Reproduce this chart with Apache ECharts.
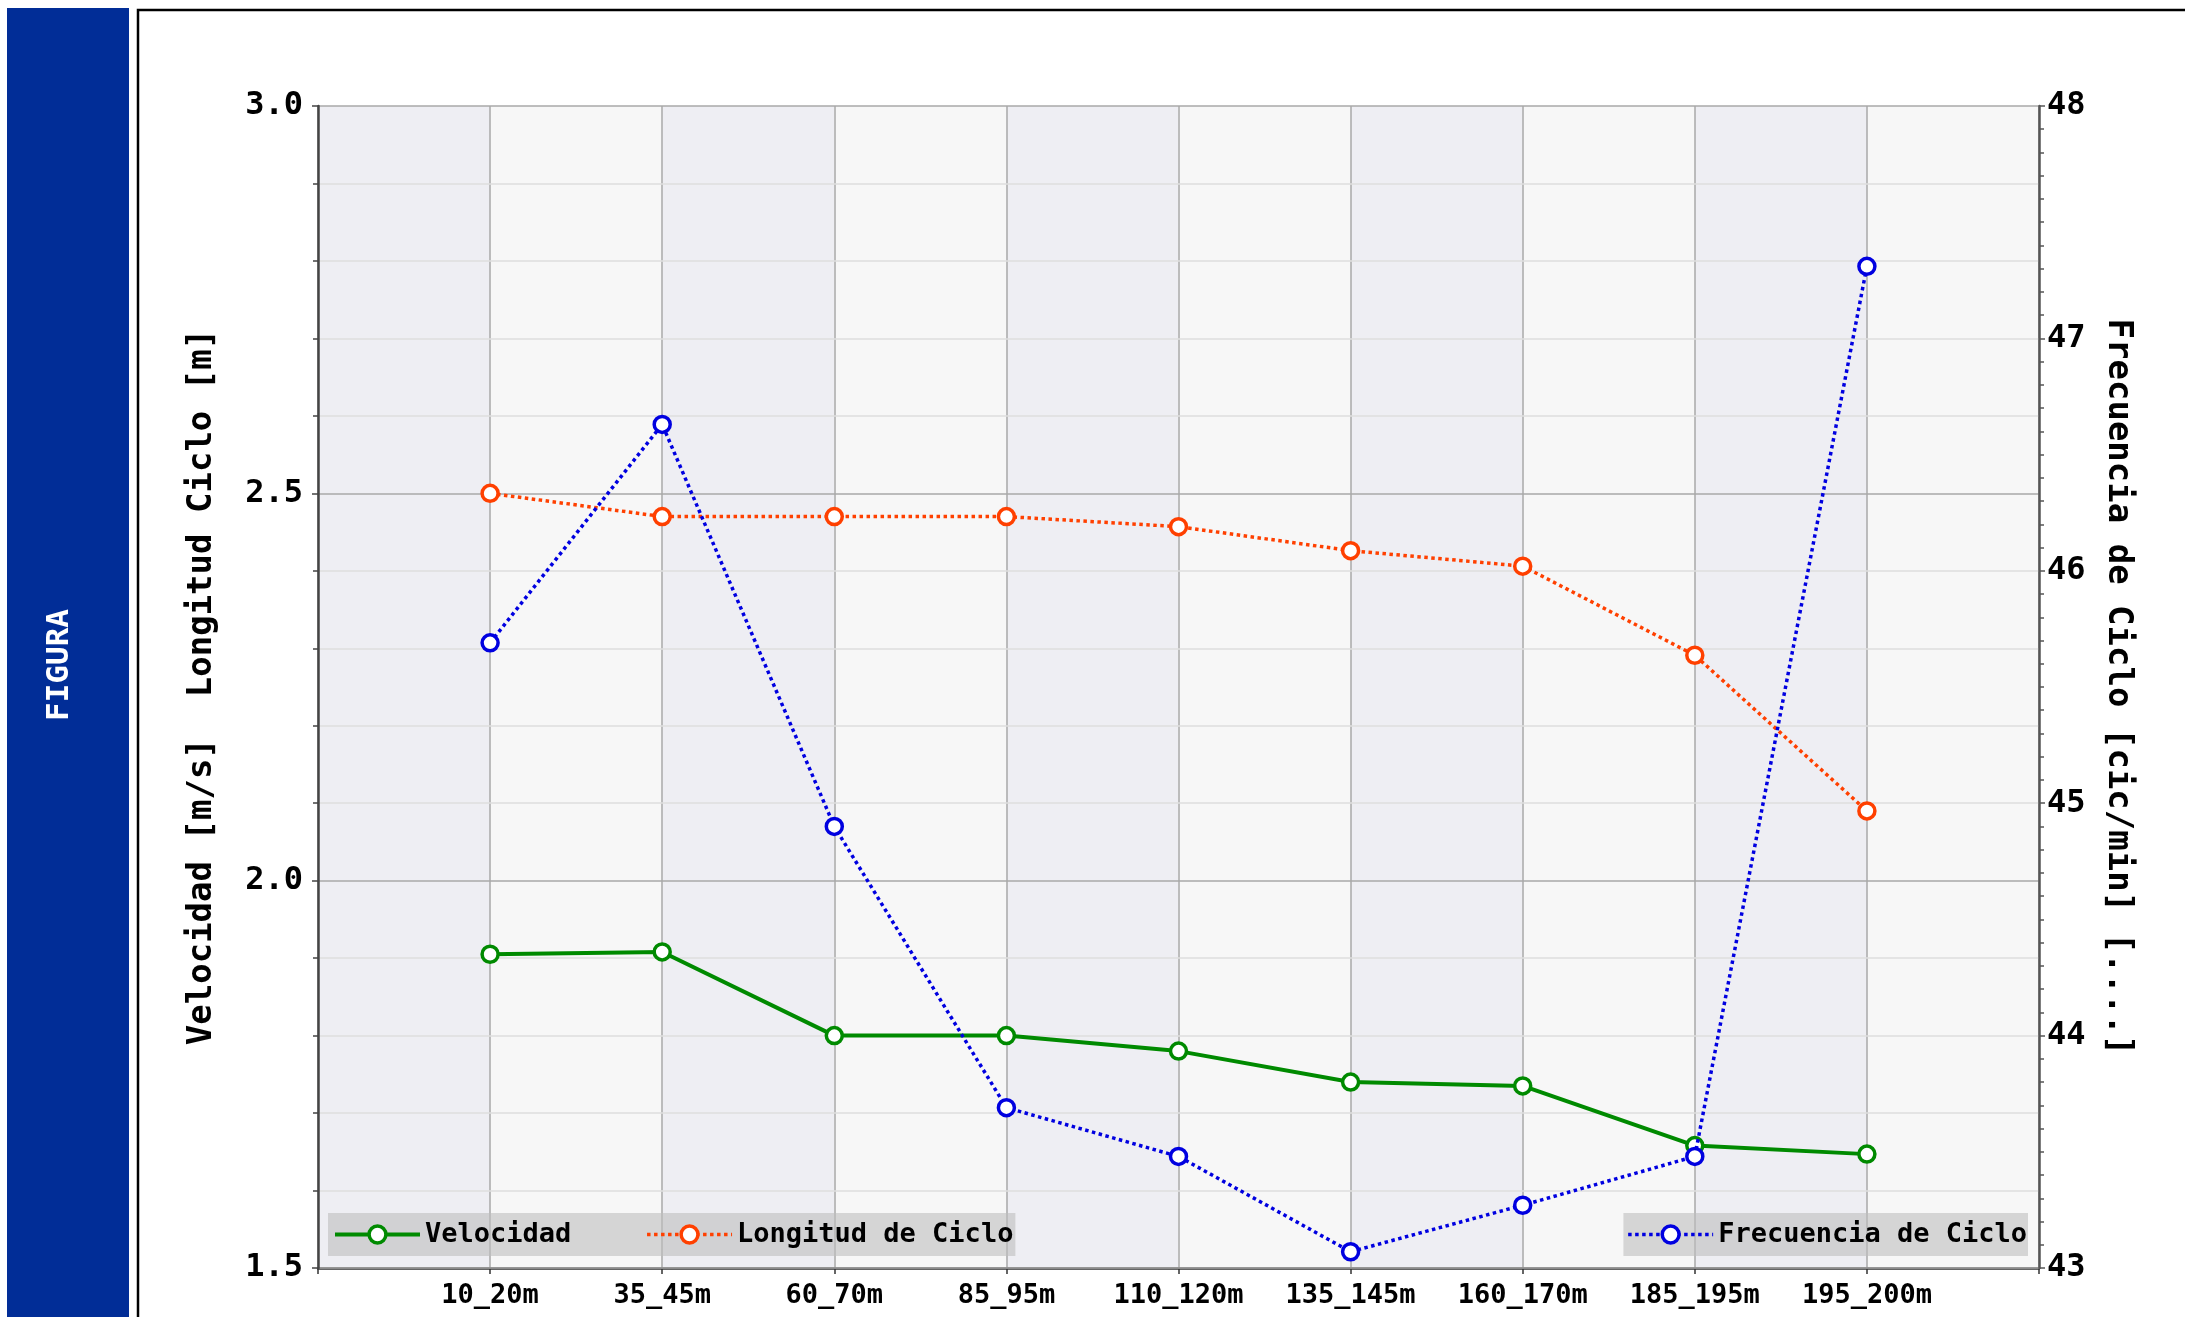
<!DOCTYPE html>
<html>
<head>
<meta charset="utf-8">
<script src="https://cdn.jsdelivr.net/npm/echarts@6/dist/echarts.min.js"></script>
<style>
html,body{margin:0;padding:0;background:#fff;}
#chart{width:2185px;height:1317px;}
</style>
</head>
<body>
<div id="chart"></div>
<script>
const categories = ['10_20m','35_45m','60_70m','85_95m','110_120m','135_145m','160_170m','185_195m','195_200m'];
const velocidad = [1.905,1.908,1.80,1.80,1.78,1.74,1.735,1.658,1.647];
const longitud = [2.50,2.47,2.47,2.47,2.457,2.426,2.406,2.291,2.09];
const frecuencia = [45.69,46.63,44.90,43.69,43.48,43.07,43.27,43.48,47.31];
const seriesNames = ['Velocidad','Longitud de Ciclo','Frecuencia de Ciclo'];
const leftAxisTitle = 'Velocidad [m/s]  Longitud Ciclo [m]';
const rightAxisTitle = 'Frecuencia de Ciclo [cic/min] [....]';
const sideLabel = 'FIGURA';

const FONT = 'DejaVu Sans Mono';
const toPairs = arr => arr.map((v, i) => [i + 1, v]);

const chart = echarts.init(document.getElementById('chart'), null, {renderer: 'canvas'});
const legendText = {fontFamily: FONT, fontWeight: 'bold', fontSize: 27, lineHeight: 27, color: '#000'};
const legendCommon = {
  orient: 'horizontal', itemWidth: 85, itemHeight: 21, top: 1213,
  backgroundColor: 'rgba(190,190,190,0.6)', borderRadius: 0, textStyle: legendText,
  lineStyle: {width: 'inherit', type: 'inherit'},
  itemStyle: {borderWidth: 'inherit'}
};

const option = {
  backgroundColor: '#fff',
  animation: false,
  grid: {left: 318, top: 106, right: 146, bottom: 49, containLabel: false},
  graphic: [
    {type: 'rect', z: -10, shape: {x: 7, y: 8, width: 122, height: 1320}, style: {fill: '#012d97'}},
    {type: 'rect', z: -10, shape: {x: 138, y: 10, width: 2100, height: 1400}, style: {fill: 'none', stroke: '#000', lineWidth: 2.5}},
    {type: 'text', z: 10, x: 60, y: 665, rotation: Math.PI / 2,
      style: {text: sideLabel, fill: '#fff', font: 'bold 31px "DejaVu Sans Mono"', align: 'center', verticalAlign: 'middle'}}
  ],
  legend: [
    Object.assign({}, legendCommon, {data: [seriesNames[0], seriesNames[1]], left: 328,
      padding: [8, 2, 8, 5], itemGap: 74}),
    Object.assign({}, legendCommon, {data: [seriesNames[2]], right: 157,
      padding: [8, 1, 8, 3]})
  ],
  xAxis: {
    type: 'value', min: 0, max: 10, interval: 1, z: 0,
    axisLine: {show: true, onZero: false, lineStyle: {color: '#333', width: 2.5}},
    axisTick: {show: true, length: 6, lineStyle: {color: '#333', width: 1.5}},
    axisLabel: {
      margin: 14, color: '#000', fontFamily: FONT, fontWeight: 'bold', fontSize: 27,
      formatter: v => categories[v - 1] || ''
    },
    splitLine: {show: true, lineStyle: {color: '#a8a8a8', width: 1.5}},
    splitArea: {show: true, areaStyle: {color: ['#eeeef3', '#f7f7f7']}}
  },
  yAxis: [
    {
      type: 'value', min: 1.5, max: 3.0, interval: 0.5, position: 'left', z: 1,
      name: leftAxisTitle, nameLocation: 'middle', nameRotate: 90, nameGap: 99,
      nameTextStyle: {fontFamily: FONT, fontWeight: 'bold', fontSize: 34, color: '#000'},
      axisLine: {show: true, lineStyle: {color: '#444', width: 2.5}},
      axisTick: {show: true, length: 6, lineStyle: {color: '#444', width: 1.5}},
      minorTick: {show: true, splitNumber: 5, length: 5, lineStyle: {color: '#444', width: 1.5}},
      axisLabel: {margin: 15, color: '#000', fontFamily: FONT, fontWeight: 'bold', fontSize: 32,
        formatter: v => v.toFixed(1)},
      splitLine: {show: true, lineStyle: {color: '#a8a8a8', width: 1.5}},
      minorSplitLine: {show: true, lineStyle: {color: '#dedede', width: 1.5}}
    },
    {
      type: 'value', min: 43, max: 48, interval: 1, position: 'right', z: 1,
      name: rightAxisTitle, nameLocation: 'middle', nameRotate: -90, nameGap: 62,
      nameTextStyle: {fontFamily: FONT, fontWeight: 'bold', fontSize: 34, color: '#000'},
      axisLine: {show: true, lineStyle: {color: '#555', width: 2.5}},
      axisTick: {show: true, length: 6, lineStyle: {color: '#555', width: 1.5}},
      minorTick: {show: true, splitNumber: 10, length: 5, lineStyle: {color: '#555', width: 1.5}},
      axisLabel: {margin: 8, color: '#000', fontFamily: FONT, fontWeight: 'bold', fontSize: 32},
      splitLine: {show: false}
    }
  ],
  series: [
    {
      name: seriesNames[0], type: 'line', yAxisIndex: 0, data: toPairs(velocidad),
      symbol: 'circle', symbolSize: 16, z: 3,
      lineStyle: {color: '#008a00', width: 4, type: 'solid'},
      itemStyle: {color: '#ffffff', borderColor: '#008a00', borderWidth: 3.5}
    },
    {
      name: seriesNames[1], type: 'line', yAxisIndex: 0, data: toPairs(longitud),
      symbol: 'circle', symbolSize: 16, z: 4,
      lineStyle: {color: '#ff4000', width: 3.5, type: [3.5, 3.5]},
      itemStyle: {color: '#ffffff', borderColor: '#ff4000', borderWidth: 3.5}
    },
    {
      name: seriesNames[2], type: 'line', yAxisIndex: 1, data: toPairs(frecuencia),
      symbol: 'circle', symbolSize: 16, z: 5,
      lineStyle: {color: '#0000e0', width: 3.5, type: [3.5, 3.5]},
      itemStyle: {color: '#ffffff', borderColor: '#0000e0', borderWidth: 3.5}
    }
  ]
};
chart.setOption(option);
</script>
</body>
</html>
